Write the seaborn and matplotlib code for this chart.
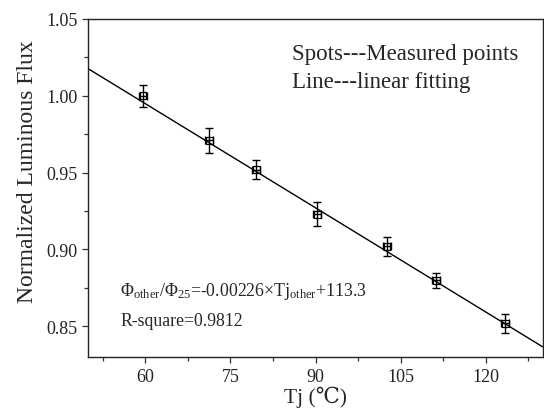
import numpy as np
import pandas as pd
import matplotlib
matplotlib.use("Agg")
import matplotlib.pyplot as plt
from matplotlib.ticker import MultipleLocator
import seaborn as sns

# measured points
tj = [59.6, 71.3, 79.6, 90.3, 102.6, 111.3, 123.4]
flux = [1.000, 0.971, 0.952, 0.923, 0.902, 0.880, 0.852]
flux_err = [0.007, 0.008, 0.006, 0.008, 0.006, 0.005, 0.006]
tj_err = [0.7, 0.7, 0.7, 0.7, 0.7, 0.7, 0.7]

# fitted line as drawn in the figure
fit_slope = -0.00226
fit_intercept = 1.1305

x_ticks = [60, 75, 90, 105, 120]
y_ticks = [0.85, 0.90, 0.95, 1.00, 1.05]

sns.set_style("ticks")
plt.rcParams['font.family'] = ['Liberation Serif', 'DejaVu Serif']
plt.rcParams['mathtext.fontset'] = 'custom'
plt.rcParams['mathtext.rm'] = 'Liberation Serif'
plt.rcParams['mathtext.it'] = 'Liberation Serif:italic'

data = pd.DataFrame({"Tj": tj, "Flux": flux})

fig = plt.figure(figsize=(5.44, 4.14), dpi=100)
ax = fig.add_axes([0.1625, 0.135, 0.835, 0.817])
xlim = (50, 130)
ax.set_xlim(*xlim)
ax.set_ylim(0.83, 1.05)

fit = pd.DataFrame({"Tj": list(xlim)})
fit["Flux"] = fit_slope * fit["Tj"] + fit_intercept
sns.lineplot(data=fit, x="Tj", y="Flux", ax=ax, color="black", lw=1.0)

ax.errorbar(tj, flux, yerr=flux_err, xerr=tj_err, fmt="none", ecolor="black",
            elinewidth=1.0, capsize=3, capthick=1.0)
sns.scatterplot(data=data, x="Tj", y="Flux", ax=ax, marker="s", s=24,
                facecolors="none", edgecolor="black", linewidth=0.9, zorder=5)

ax.set_xlim(*xlim)
ax.set_ylim(0.83, 1.05)
ax.set_xticks(x_ticks)
ax.set_yticks(y_ticks)
ax.set_yticklabels(["{:.2f}".format(v) for v in y_ticks])
ax.xaxis.set_minor_locator(MultipleLocator(7.5))
ax.yaxis.set_minor_locator(MultipleLocator(0.025))
ax.tick_params(which="major", direction="out", length=4, width=0.9, labelsize=13,
               color="#333333", labelcolor="#222222")
ax.tick_params(which="minor", direction="out", length=3, width=0.9, color="#333333")
for s in ax.spines.values():
    s.set_linewidth(1.0)
    s.set_color("#222222")

ax.set_xlabel("Tj (℃)", fontsize=15.5, labelpad=1)
ax.set_ylabel("Normalized Luminous Flux", fontsize=17)
ax.yaxis.set_label_coords(-0.11, 0.55)

ax.text(0.448, 0.897, "Spots---Measured points", transform=ax.transAxes,
        fontsize=16.5, va="center", ha="left")
ax.text(0.448, 0.814, "Line---linear fitting", transform=ax.transAxes,
        fontsize=16.5, va="center", ha="left")
ax.text(0.07, 0.197, r"Φ$_{\rm other}$/Φ$_{\rm 25}$=-0.00226×Tj$_{\rm other}$+113.3",
        transform=ax.transAxes, fontsize=12.8, va="center", ha="left")
ax.text(0.07, 0.108, "R-square=0.9812", transform=ax.transAxes,
        fontsize=12.8, va="center", ha="left")

fig.savefig("out.png", dpi=100)
